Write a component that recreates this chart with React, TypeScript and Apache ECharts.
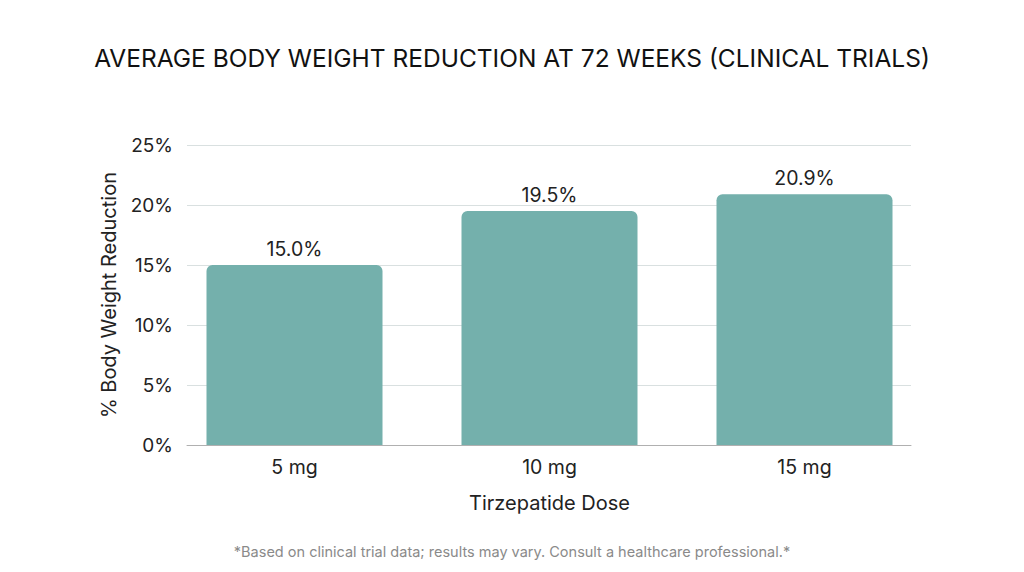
import { useEffect, useRef } from 'react'
import * as echarts from 'echarts'

const doses = ['5 mg', '10 mg', '15 mg']
const reduction = [15.0, 19.5, 20.9]
const yTicks = [0, 5, 10, 15, 20, 25]

const FONT = 'Inter, "Open Sans", sans-serif'
const yMin = yTicks[0]
const yMax = yTicks[yTicks.length - 1]

export default function App() {
  const chartRef = useRef<HTMLDivElement>(null)

  useEffect(() => {
    if (!chartRef.current) return
    const chart = echarts.init(chartRef.current, undefined, { renderer: 'svg' })

    const option: echarts.EChartsOption = {
      animation: false,
      backgroundColor: '#ffffff',
      title: [
        {
          text: 'AVERAGE BODY WEIGHT REDUCTION AT 72 WEEKS (CLINICAL TRIALS)',
          left: 'center',
          top: 40,
          textStyle: { fontFamily: FONT, fontSize: 24.5, fontWeight: 'normal', color: '#111' }
        },
        {
          text: '*Based on clinical trial data; results may vary. Consult a healthcare professional.*',
          left: 'center',
          top: 539,
          textStyle: { fontFamily: FONT, fontSize: 14.5, fontWeight: 'normal', color: '#8a8a8a' }
        }
      ],
      // grid 0: bars and category labels; grid 1: gridlines, y labels, baseline
      grid: [
        { left: 167, right: 92, top: 145, bottom: 127 },
        { left: 187, right: 113, top: 145, bottom: 127 }
      ],
      xAxis: [
        {
          type: 'category',
          gridIndex: 0,
          data: doses,
          name: 'Tirzepatide Dose',
          nameLocation: 'middle',
          nameGap: 48,
          nameTextStyle: { fontFamily: FONT, fontSize: 20, color: '#222' },
          axisLine: { show: false },
          axisTick: { show: false },
          axisLabel: { fontFamily: FONT, fontSize: 19.5, color: '#222', margin: 12 }
        },
        {
          type: 'category',
          gridIndex: 1,
          data: doses,
          axisLine: { lineStyle: { color: '#b0b0b0', width: 1 } },
          axisTick: { show: false },
          axisLabel: { show: false }
        }
      ],
      yAxis: [
        {
          type: 'value',
          gridIndex: 0,
          min: yMin,
          max: yMax,
          interval: 5,
          axisLine: { show: false },
          axisTick: { show: false },
          axisLabel: { show: false },
          splitLine: { show: false }
        },
        {
          type: 'value',
          gridIndex: 1,
          min: yMin,
          max: yMax,
          interval: 5,
          name: '% Body Weight Reduction',
          nameLocation: 'middle',
          nameGap: 68,
          nameTextStyle: { fontFamily: FONT, fontSize: 20, color: '#222' },
          axisLine: { show: false },
          axisTick: { show: false },
          axisLabel: { fontFamily: FONT, fontSize: 19, color: '#222', margin: 14, formatter: '{value}%' },
          splitLine: { lineStyle: { color: '#d9e0e0', width: 1 } }
        }
      ],
      series: [
        {
          type: 'bar',
          xAxisIndex: 0,
          yAxisIndex: 0,
          data: reduction,
          barWidth: 176,
          itemStyle: { color: '#74b0ac', borderRadius: [6, 6, 0, 0] },
          label: {
            show: true,
            position: 'top',
            distance: 6,
            fontFamily: FONT,
            fontSize: 19.5,
            color: '#222',
            formatter: (p: any) => Number(p.value).toFixed(1) + '%'
          }
        }
      ]
    }

    chart.setOption(option)
    return () => chart.dispose()
  }, [])

  return <div ref={chartRef} style={{ width: 1024, height: 572, margin: -8 }} />
}
